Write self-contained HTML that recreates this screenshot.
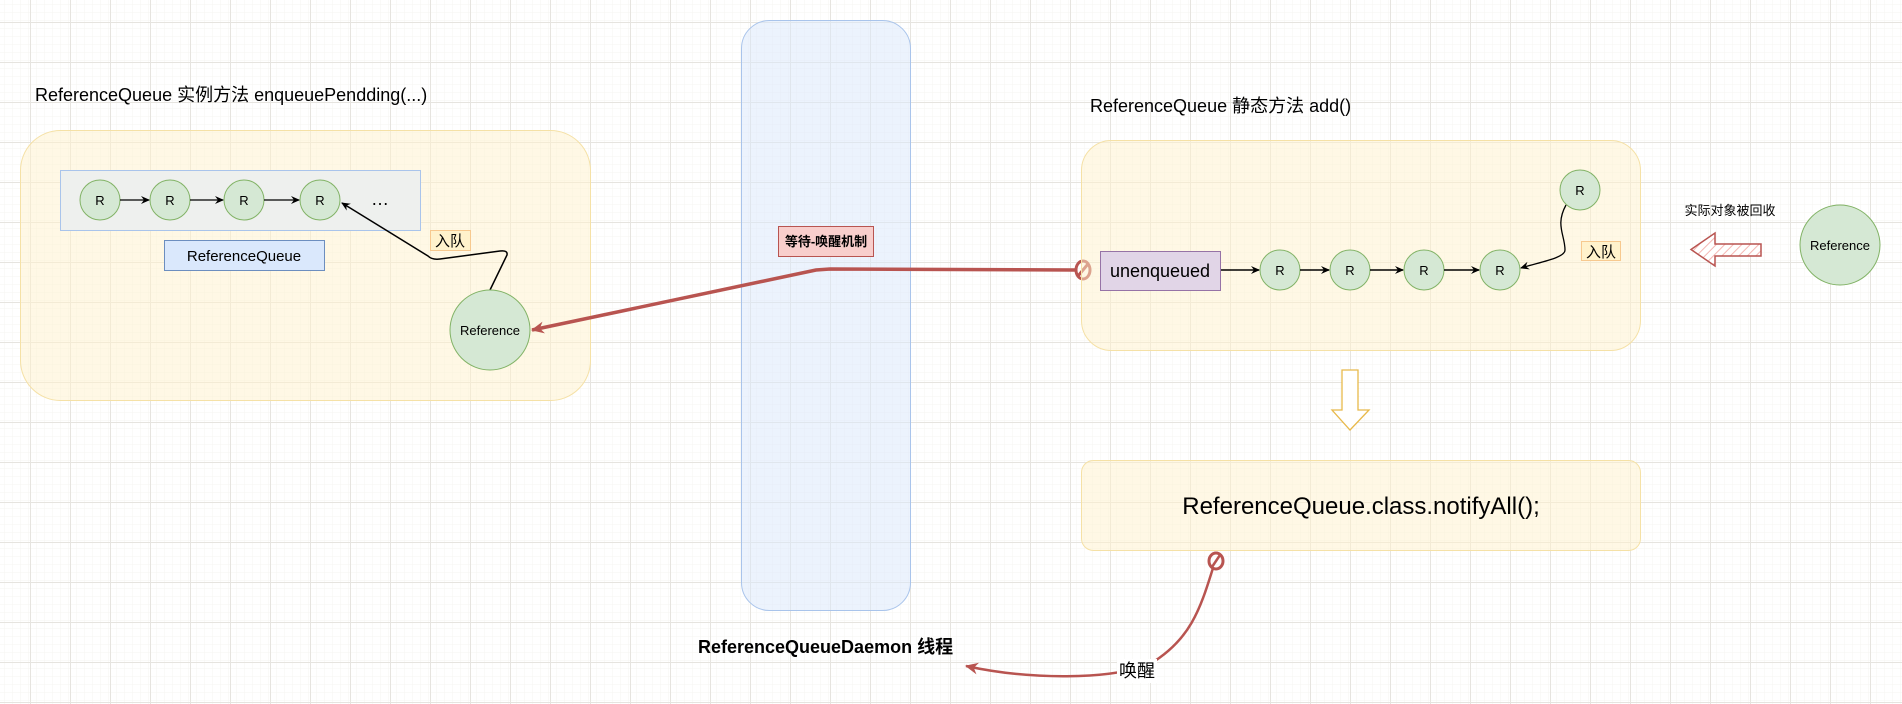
<!DOCTYPE html>
<html><head><meta charset="utf-8"><style>
html,body{margin:0;padding:0;background:#fff;}
svg{display:block;}
text{font-family:"Liberation Sans","Noto Sans CJK SC",sans-serif;}
</style></head><body>
<svg width="1902" height="704" viewBox="0 0 1902 704" xmlns="http://www.w3.org/2000/svg">
<defs>
<pattern id="minor" x="30" y="22" width="8" height="8" patternUnits="userSpaceOnUse">
<path d="M8 0H0V8" fill="none" stroke="#f5f4f2" stroke-width="1"/>
</pattern>
<pattern id="major" x="30" y="22" width="40" height="40" patternUnits="userSpaceOnUse">
<rect width="40" height="40" fill="url(#minor)"/>
<path d="M40 0.5H0.5V40" fill="none" stroke="#e6e4df" stroke-width="1"/>
</pattern>
<pattern id="hatch" width="6" height="6" patternUnits="userSpaceOnUse" patternTransform="rotate(45)">
<rect width="6" height="6" fill="#fff"/>
<line x1="0" y1="0" x2="0" y2="6" stroke="#f4b8b4" stroke-width="2"/>
</pattern>
<marker id="ab" markerWidth="10" markerHeight="10" refX="8" refY="5" orient="auto" markerUnits="userSpaceOnUse">
<path d="M0 1 L9 5 L0 9 L3 5 Z" fill="#000"/>
</marker>
<marker id="ar" markerWidth="16" markerHeight="16" refX="12" refY="8" orient="auto" markerUnits="userSpaceOnUse">
<path d="M0 2 L13 8 L0 14 L4 8 Z" fill="#b85450"/>
</marker>
</defs>
<rect width="1902" height="704" fill="#fff"/>
<rect width="1902" height="704" fill="url(#major)"/>

<!-- left -->
<text x="35" y="101" font-size="18">ReferenceQueue 实例方法 enqueuePendding(...)</text>
<rect x="20.5" y="130.5" width="570" height="270" rx="40" fill="#fff2cc" fill-opacity="0.5" stroke="#f5e1a6"/>
<rect x="60.5" y="170.5" width="360" height="60" fill="#eef0ee" stroke="#a9c4eb"/>
<g fill="#d5e8d4" stroke="#82b366">
<circle cx="100" cy="200" r="20"/><circle cx="170" cy="200" r="20"/><circle cx="244" cy="200" r="20"/><circle cx="320" cy="200" r="20"/>
</g>
<g font-size="13" text-anchor="middle">
<text x="100" y="205">R</text><text x="170" y="205">R</text><text x="244" y="205">R</text><text x="320" y="205">R</text>
</g>
<g stroke="#000" stroke-width="1.3" marker-end="url(#ab)">
<line x1="120" y1="200" x2="149" y2="200"/><line x1="190" y1="200" x2="223" y2="200"/><line x1="264" y1="200" x2="299" y2="200"/>
</g>
<text x="380" y="205" font-size="18" text-anchor="middle">…</text>
<rect x="164.5" y="240.5" width="160" height="30" fill="#dae8fc" stroke="#6c8ebf"/>
<text x="244" y="261" font-size="15" text-anchor="middle">ReferenceQueue</text>
<rect x="430.5" y="230.5" width="40" height="20" fill="#fff2cc" stroke="#f7c98f"/>
<text x="450" y="246" font-size="15" text-anchor="middle">入队</text>
<path d="M490 290 L507 255 Q508 250 500 251 L440 259 Q432 260 428 256 L342 203" fill="none" stroke="#000" stroke-width="1.5" marker-end="url(#ab)"/>
<circle cx="490" cy="330" r="40" fill="#d5e8d4" stroke="#82b366"/>
<text x="490" y="335" font-size="13" text-anchor="middle">Reference</text>

<!-- middle bar -->
<rect x="741.5" y="20.5" width="169" height="590" rx="28" fill="#dae8fc" fill-opacity="0.5" stroke="#a9c4eb"/>
<rect x="778.5" y="226.5" width="95" height="30" fill="#f8cecc" stroke="#b85450"/>
<text x="826" y="246" font-size="13" font-weight="bold" text-anchor="middle">等待-唤醒机制</text>
<path d="M1075 270 L830 269 L816 270 L532 330" fill="none" stroke="#b85450" stroke-width="3.5" marker-end="url(#ar)"/>
<ellipse cx="1083" cy="270" rx="7" ry="9" fill="none" stroke="#b85450" stroke-width="3"/>
<line x1="1078" y1="276" x2="1088" y2="264" stroke="#b85450" stroke-width="3"/>
<text x="698" y="653" font-size="18" font-weight="bold">ReferenceQueueDaemon 线程</text>

<!-- right -->
<text x="1090" y="112" font-size="18">ReferenceQueue 静态方法 add()</text>
<rect x="1081.5" y="140.5" width="559" height="210" rx="30" fill="#fff2cc" fill-opacity="0.5" stroke="#f5e1a6"/>
<rect x="1100.5" y="251.5" width="120" height="39" fill="#e1d5e7" stroke="#9673a6"/>
<text x="1160" y="277" font-size="18" text-anchor="middle">unenqueued</text>
<g fill="#d5e8d4" stroke="#82b366">
<circle cx="1280" cy="270" r="20"/><circle cx="1350" cy="270" r="20"/><circle cx="1424" cy="270" r="20"/><circle cx="1500" cy="270" r="20"/><circle cx="1580" cy="190" r="20"/>
</g>
<g font-size="13" text-anchor="middle">
<text x="1280" y="275">R</text><text x="1350" y="275">R</text><text x="1424" y="275">R</text><text x="1500" y="275">R</text><text x="1580" y="195">R</text>
</g>
<g stroke="#000" stroke-width="1.5" marker-end="url(#ab)">
<line x1="1221" y1="270" x2="1259" y2="270"/><line x1="1300" y1="270" x2="1329" y2="270"/><line x1="1370" y1="270" x2="1403" y2="270"/><line x1="1444" y1="270" x2="1479" y2="270"/>
</g>
<path d="M1566 205 C1555 225 1565 235 1565 250 C1565 258 1540 262 1521 268" fill="none" stroke="#000" stroke-width="1.3" marker-end="url(#ab)"/>
<rect x="1581.5" y="241.5" width="39" height="19" fill="#fff2cc" stroke="#f7c98f"/>
<text x="1601" y="257" font-size="15" text-anchor="middle">入队</text>

<text x="1730" y="215" font-size="13" text-anchor="middle">实际对象被回收</text>
<path d="M1691 249.5 L1715 233 L1715 244 L1761 244 L1761 256 L1715 256 L1715 266 Z" fill="url(#hatch)" stroke="#b85450" stroke-width="1.5"/>
<circle cx="1840" cy="245" r="40" fill="#d5e8d4" stroke="#82b366"/>
<text x="1840" y="250" font-size="13" text-anchor="middle">Reference</text>

<path d="M1342 370 L1358 370 L1358 410 L1369 410 L1350 430 L1332 410 L1342 410 Z" fill="#fff" stroke="#e8b94a" stroke-width="1.3"/>
<rect x="1081.5" y="460.5" width="559" height="90" rx="12" fill="#fff2cc" fill-opacity="0.5" stroke="#f5e1a6"/>
<text x="1361" y="514" font-size="24" text-anchor="middle">ReferenceQueue.class.notifyAll();</text>

<path d="M1213 568 C1200 610 1190 640 1150 664 C1110 680 1030 680 966 666" fill="none" stroke="#b85450" stroke-width="2.5" marker-end="url(#ar)"/>
<ellipse cx="1216" cy="561" rx="7" ry="8" fill="none" stroke="#b85450" stroke-width="3"/>
<line x1="1212" y1="567" x2="1220" y2="555" stroke="#b85450" stroke-width="2.5"/>
<rect x="1117" y="659" width="40" height="24" fill="#fff"/>
<text x="1137" y="677" font-size="18" text-anchor="middle">唤醒</text>
</svg>
</body></html>
